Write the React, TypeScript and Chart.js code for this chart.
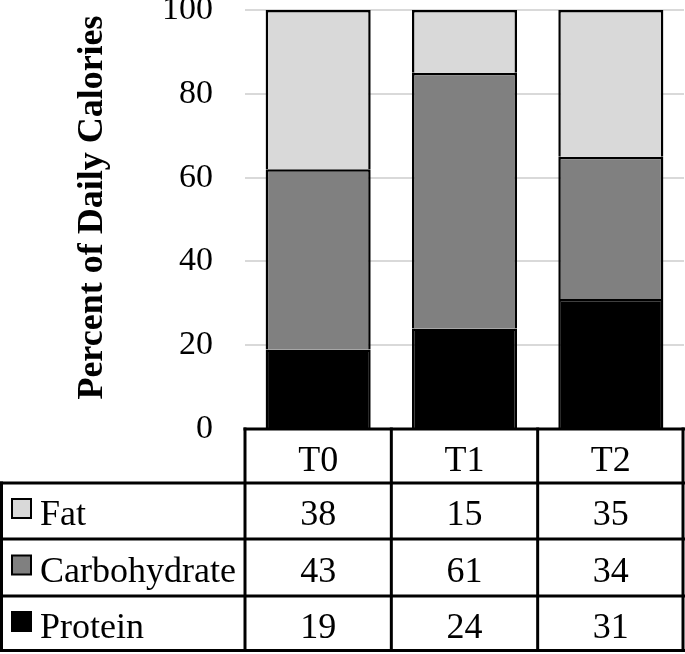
import { useEffect, useRef } from "react";
import { Chart, registerables } from "chart.js";

Chart.register(...registerables);

// ---- data ----
const categories = ["T0", "T1", "T2"];
const protein = [19, 24, 31];
const carbohydrate = [43, 61, 34];
const fat = [38, 15, 35];
const yTicks = [0, 20, 40, 60, 80, 100];
const seriesNames = ["Protein", "Carbohydrate", "Fat"];
const yTitle = "Percent of Daily Calories";

// ---- styles ----
const seriesColors = ["#000000", "#808080", "#d9d9d9"];
const FONT = "'Liberation Serif', 'Times New Roman', Times, serif";

const HEADER_H = 54;
const ROW_H = [56, 57, 56];
const LABEL_COL_W = 245;

const titlePlugin = {
  id: "yTitle",
  afterDraw(chart: any) {
    const { ctx, chartArea } = chart;
    ctx.save();
    ctx.fillStyle = "#000";
    ctx.font = `bold 36px ${FONT}`;
    ctx.textAlign = "center";
    ctx.textBaseline = "alphabetic";
    ctx.translate(102, (chartArea.top + chartArea.bottom) / 2 - 12);
    ctx.rotate(-Math.PI / 2);
    ctx.fillText(yTitle, 0, 0);
    ctx.restore();
  },
};

const tablePlugin = {
  id: "dataTable",
  afterDraw(chart: any) {
    const { ctx, chartArea, scales } = chart;
    const xs = scales.x;
    const n = categories.length;
    const colW = (chartArea.right - chartArea.left) / n;
    const top = chartArea.bottom;
    const right = chartArea.right;
    const rows = chart.data.datasets.slice().reverse();
    const rowTops: number[] = [];
    let y = top + HEADER_H;
    for (let i = 0; i < rows.length; i++) {
      rowTops.push(y);
      y += ROW_H[i];
    }
    const bottom = y;

    ctx.save();
    ctx.strokeStyle = "#000";
    ctx.lineWidth = 3;
    ctx.lineCap = "square";
    const line = (x1: number, y1: number, x2: number, y2: number) => {
      ctx.beginPath();
      ctx.moveTo(x1, y1);
      ctx.lineTo(x2, y2);
      ctx.stroke();
    };
    // horizontal
    line(chartArea.left, top, right, top);
    for (const rt of rowTops) line(1.5, rt, right, rt);
    line(1.5, bottom - 1.5, right, bottom - 1.5);
    // vertical
    line(1.5, rowTops[0], 1.5, bottom - 1.5);
    for (let i = 0; i < n; i++) {
      const cx = xs.getPixelForValue(i);
      line(cx - colW / 2, top, cx - colW / 2, bottom - 1.5);
    }
    line(right - 1, top, right - 1, bottom - 1.5);

    // header text
    ctx.fillStyle = "#000";
    ctx.font = `36px ${FONT}`;
    ctx.textAlign = "center";
    ctx.textBaseline = "alphabetic";
    for (let i = 0; i < n; i++) {
      const cx = xs.getPixelForValue(i);
      ctx.fillText(categories[i], cx, top + HEADER_H / 2 + 15);
    }
    // rows
    rows.forEach((ds: any, r: number) => {
      const rt = rowTops[r];
      const mid = rt + ROW_H[r] / 2;
      // legend key
      ctx.fillStyle = ds.backgroundColor;
      ctx.fillRect(12, mid - 12, 19, 19);
      ctx.lineWidth = 2;
      ctx.strokeStyle = "#000";
      ctx.strokeRect(12, mid - 12, 19, 19);
      ctx.fillStyle = "#000";
      ctx.textAlign = "left";
      ctx.fillText(ds.label, 40, mid + 14);
      ctx.textAlign = "center";
      for (let i = 0; i < n; i++) {
        const cx = xs.getPixelForValue(i);
        ctx.fillText(String(ds.data[i]), cx, mid + 14);
      }
    });
    ctx.restore();
  },
};

export default function App() {
  const canvasRef = useRef<HTMLCanvasElement | null>(null);

  useEffect(() => {
    if (!canvasRef.current) return;
    const values = [protein, carbohydrate, fat];
    const chart = new Chart(canvasRef.current, {
      type: "bar",
      data: {
        labels: categories,
        datasets: seriesNames.map((name, i) => ({
          label: name,
          data: values[i],
          backgroundColor: seriesColors[i],
          borderColor: "#000",
          borderWidth: { top: 2.5, left: 2.5, right: 2.5, bottom: 0 },
          borderSkipped: false,
          inflateAmount: 0,
          categoryPercentage: 1,
          barPercentage: 0.718,
        })),
      },
      options: {
        animation: false,
        responsive: true,
        maintainAspectRatio: false,
        layout: { padding: { top: 10, bottom: 225, left: 0, right: 1 } },
        plugins: {
          legend: { display: false },
          tooltip: { enabled: false },
        },
        scales: {
          x: {
            stacked: true,
            display: false,
          },
          y: {
            stacked: true,
            min: 0,
            max: 100,
            afterBuildTicks: (scale: any) => {
              scale.ticks = yTicks.map((v) => ({ value: v }));
            },
            afterFit: (scale: any) => {
              scale.width = LABEL_COL_W;
              scale.paddingTop = 0;
              scale.paddingBottom = 0;
            },
            border: { display: false },
            grid: { color: "#d9d9d9", lineWidth: 2, drawTicks: false },
            ticks: {
              color: "#000",
              padding: 32,
              font: { family: FONT, size: 34 },
            },
            title: { display: false, text: yTitle },
          },
        },
      },
      plugins: [tablePlugin, titlePlugin],
    });
    return () => chart.destroy();
  }, []);

  return (
    <div style={{ position: "absolute", left: 0, top: 0, width: 685, height: 654 }}>
      <canvas ref={canvasRef} />
    </div>
  );
}
